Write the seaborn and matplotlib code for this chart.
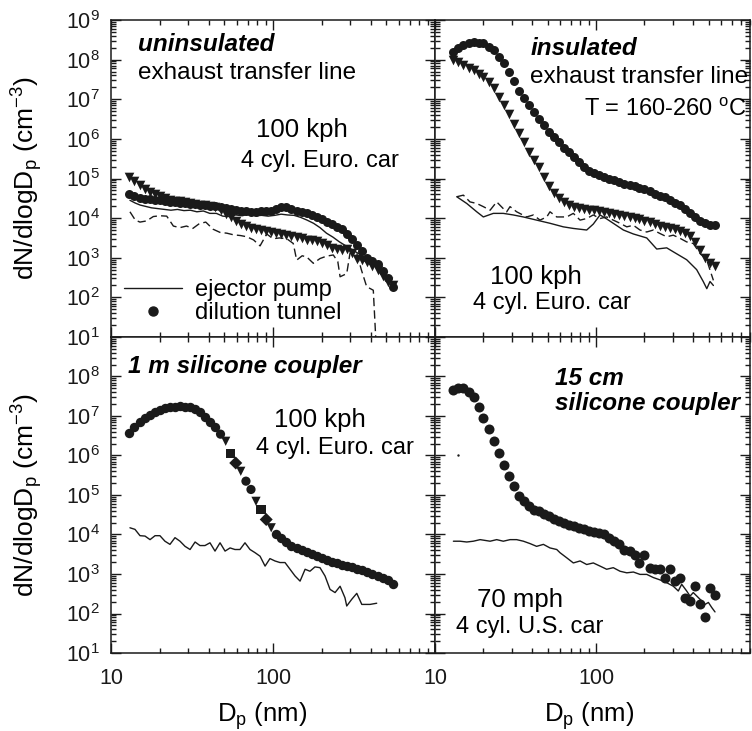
import numpy as np
import pandas as pd
import matplotlib
matplotlib.use('Agg')
import matplotlib.pyplot as plt
import seaborn as sns
from matplotlib.lines import Line2D
from matplotlib.ticker import LogLocator, NullFormatter

# all values are log10 (diameter in nm, dN/dlogDp in cm^-3)
grid_lx = [1.114, 1.145, 1.176, 1.208, 1.239, 1.270, 1.301, 1.333, 1.364, 1.395,
           1.426, 1.458, 1.489, 1.520, 1.551, 1.583, 1.614, 1.645, 1.676, 1.708,
           1.739, 1.770, 1.801, 1.833, 1.864, 1.895, 1.926, 1.958, 1.989, 2.020,
           2.051, 2.083, 2.114, 2.145, 2.176, 2.208, 2.239, 2.270, 2.301, 2.333,
           2.364, 2.395, 2.426, 2.458, 2.489, 2.520, 2.551, 2.583, 2.614, 2.645,
           2.676, 2.708, 2.739]

# top left: uninsulated transfer line
tl_circ_ly = [4.62, 4.56, 4.50, 4.49, 4.48, 4.47, 4.45, 4.43, 4.41, 4.40,
              4.39, 4.37, 4.36, 4.35, 4.33, 4.33, 4.31, 4.30, 4.29, 4.26,
              4.23, 4.20, 4.19, 4.18, 4.16, 4.16, 4.17, 4.18, 4.19, 4.24,
              4.27, 4.29, 4.23, 4.18, 4.15, 4.12, 4.07, 4.02, 3.97, 3.90,
              3.84, 3.78, 3.72, 3.60, 3.47, 3.32, 3.16, 3.00, 2.93, 2.84,
              2.66, 2.48, 2.25]
tl_tri_ly = [5.04, 4.93, 4.83, 4.74, 4.66, 4.60, 4.55, 4.50, 4.46, 4.44,
             4.42, 4.40, 4.38, 4.36, 4.34, 4.33, 4.31, 4.28, 4.20, 4.10,
             4.02, 3.92, 3.85, 3.80, 3.76, 3.73, 3.71, 3.68, 3.65, 3.63,
             3.60, 3.57, 3.55, 3.52, 3.49, 3.46, 3.44, 3.42, 3.38, 3.32,
             3.25, 3.22, 3.20, 3.22, 3.12, 2.98, 2.95, 2.90, 2.80, 2.70,
             2.55, 2.40, 2.30]
tl_pump_lx = [1.117, 1.150, 1.180, 1.210, 1.250, 1.290, 1.330, 1.370, 1.410, 1.450,
              1.490, 1.530, 1.570, 1.610, 1.650, 1.690, 1.730, 1.770, 1.810, 1.850,
              1.890, 1.930, 1.970, 2.010, 2.050, 2.090, 2.130, 2.170, 2.210, 2.250,
              2.290, 2.330, 2.370, 2.410, 2.450, 2.490, 2.530, 2.570, 2.610, 2.650,
              2.690, 2.730]
tl_pump_ly = [4.45, 4.38, 4.33, 4.30, 4.26, 4.24, 4.22, 4.20, 4.22, 4.19,
              4.20, 4.16, 4.18, 4.12, 4.12, 4.05, 4.04, 4.08, 4.06, 4.10,
              4.06, 4.07, 4.05, 4.07, 4.10, 4.08, 4.07, 4.02, 3.95, 3.87,
              3.76, 3.62, 3.52, 3.40, 3.30, 3.20, 3.10, 2.98, 2.85, 2.70,
              2.50, 2.30]
tl_dash_lx = [1.117, 1.150, 1.179, 1.220, 1.261, 1.302, 1.344, 1.385, 1.425, 1.466,
              1.505, 1.545, 1.585, 1.630, 1.673, 1.715, 1.755, 1.800, 1.838, 1.880,
              1.920, 1.961, 2.000, 2.040, 2.085, 2.125, 2.146, 2.180, 2.208, 2.249,
              2.290, 2.330, 2.372, 2.400, 2.414, 2.455, 2.475, 2.517, 2.545, 2.578,
              2.619, 2.640]
tl_dash_ly = [4.16, 3.95, 3.90, 3.93, 4.04, 4.06, 4.05, 3.80, 3.76, 3.80,
              3.74, 3.86, 3.90, 3.72, 3.64, 3.62, 3.58, 3.56, 3.53, 3.45,
              3.30, 3.60, 3.48, 3.50, 3.48, 3.36, 2.94, 3.05, 3.02, 2.86,
              2.98, 3.04, 3.07, 2.90, 2.52, 2.60, 3.11, 3.11, 2.70, 2.27,
              2.18, 0.50]

# top right: insulated transfer line
tr_circ_ly = [8.20, 8.29, 8.37, 8.41, 8.45, 8.43, 8.41, 8.33, 8.24, 8.07,
              7.91, 7.69, 7.47, 7.21, 7.02, 6.85, 6.68, 6.51, 6.34, 6.17,
              6.04, 5.91, 5.78, 5.66, 5.54, 5.41, 5.29, 5.20, 5.13, 5.10,
              5.05, 5.00, 4.95, 4.91, 4.87, 4.83, 4.80, 4.77, 4.73, 4.68,
              4.62, 4.57, 4.53, 4.45, 4.39, 4.32, 4.22, 4.12, 4.03, 3.93,
              3.87, 3.83, 3.82]
tr_tri_ly = [7.99, 7.93, 7.86, 7.80, 7.74, 7.65, 7.57, 7.43, 7.28, 7.06,
             6.85, 6.62, 6.37, 6.15, 5.92, 5.68, 5.46, 5.30, 5.04, 4.81,
             4.63, 4.50, 4.40, 4.32, 4.28, 4.25, 4.23, 4.21, 4.20, 4.18,
             4.15, 4.12, 4.10, 4.08, 4.06, 4.04, 4.00, 3.97, 3.93, 3.90,
             3.85, 3.81, 3.77, 3.74, 3.72, 3.68, 3.63, 3.55, 3.40, 3.20,
             3.00, 2.88, 2.78]
tr_pump_lx = [1.135, 1.197, 1.259, 1.300, 1.362, 1.424, 1.486, 1.548, 1.631, 1.714,
              1.797, 1.859, 1.942, 1.983, 2.025, 2.066, 2.107, 2.170, 2.232, 2.315,
              2.377, 2.439, 2.480, 2.563, 2.625, 2.666, 2.688, 2.708, 2.729]
tr_pump_ly = [4.54, 4.37, 4.16, 4.03, 4.12, 4.12, 4.08, 4.03, 3.95, 3.87,
              3.78, 3.74, 3.70, 3.85, 4.08, 3.98, 3.87, 3.70, 3.60, 3.50,
              3.22, 3.25, 3.15, 2.95, 2.70, 2.40, 2.22, 2.40, 2.30]
tr_dash_lx = [1.135, 1.176, 1.217, 1.259, 1.300, 1.342, 1.383, 1.424, 1.445, 1.466,
              1.507, 1.569, 1.611, 1.652, 1.694, 1.714, 1.756, 1.818, 1.859, 1.901,
              1.942, 1.983, 2.025, 2.066, 2.107, 2.149, 2.191, 2.232, 2.273, 2.315,
              2.356, 2.398, 2.439, 2.480, 2.522, 2.563, 2.604, 2.646, 2.688, 2.708,
              2.729]
tr_dash_ly = [4.54, 4.58, 4.41, 4.37, 4.29, 4.20, 4.41, 4.24, 4.16, 4.29,
              4.16, 4.03, 4.08, 3.95, 4.03, 4.16, 4.03, 4.03, 4.12, 3.95,
              3.99, 4.08, 3.99, 4.03, 3.95, 3.87, 3.78, 3.82, 3.70, 3.65,
              3.70, 3.61, 3.53, 3.57, 3.49, 3.40, 3.36, 3.11, 2.94, 2.69,
              2.43]

# bottom left: 1 m silicone coupler
bl_circ_lx = grid_lx[:18] + grid_lx[29:]
bl_circ_ly = [6.58, 6.72, 6.84, 6.95, 7.03, 7.11, 7.16, 7.20, 7.23, 7.24,
              7.25, 7.24, 7.22, 7.17, 7.10, 6.98, 6.85, 6.72,
              4.02, 3.90, 3.80, 3.72, 3.65, 3.60, 3.55, 3.50, 3.45, 3.40,
              3.36, 3.31, 3.28, 3.24, 3.20, 3.17, 3.13, 3.09, 3.05, 3.01,
              2.96, 2.90, 2.84, 2.75]
bl_steep_lx = [1.676, 1.708, 1.739, 1.770, 1.801, 1.833, 1.864, 1.895, 1.926, 1.958, 1.989]
bl_steep_ly = [6.54, 6.36, 6.06, 5.81, 5.60, 5.35, 5.14, 4.84, 4.63, 4.38, 4.17]
bl_steep_run = ['o', 'v', 's', 'D', 'v', 'o', 'o', 'v', 's', 'D', 'v']
bl_pump_lx = [1.117, 1.148, 1.179, 1.210, 1.241, 1.272, 1.302, 1.333, 1.364, 1.395,
              1.426, 1.457, 1.488, 1.519, 1.549, 1.580, 1.611, 1.642, 1.673, 1.704,
              1.735, 1.765, 1.796, 1.827, 1.858, 1.889, 1.920, 1.951, 1.981, 2.012,
              2.043, 2.074, 2.105, 2.136, 2.167, 2.198, 2.228, 2.259, 2.290, 2.321,
              2.352, 2.383, 2.414, 2.444, 2.455, 2.486, 2.517, 2.548, 2.599, 2.640]
bl_pump_ly = [4.17, 4.13, 3.97, 3.96, 3.87, 3.97, 3.97, 3.83, 3.75, 3.92,
              3.83, 3.70, 3.62, 3.81, 3.72, 3.72, 3.79, 3.58, 3.79, 3.58,
              3.66, 3.62, 3.62, 3.79, 3.62, 3.54, 3.45, 3.20, 3.39, 3.33,
              3.29, 3.29, 3.12, 2.95, 2.82, 3.12, 3.07, 3.18, 3.16, 2.95,
              2.61, 2.53, 2.69, 2.40, 2.19, 2.36, 2.51, 2.23, 2.23, 2.26]

# bottom right: 15 cm silicone coupler
br_circ_ly = [7.66, 7.70, 7.70, 7.62, 7.49, 7.24, 6.95, 6.68, 6.36, 6.06,
              5.77, 5.49, 5.24, 4.98, 4.84, 4.72, 4.63, 4.59, 4.53, 4.46,
              4.40, 4.34, 4.29, 4.25, 4.21, 4.17, 4.13, 4.08, 4.06, 4.04,
              4.00, 3.92, 3.83, 3.75, 3.62, 3.58, 3.49, 3.28, 3.49, 3.16,
              3.12, 3.12, 2.91, 3.13, 2.82, 2.91, 2.40, 2.32, 2.69, 2.23,
              1.90, 2.65, 2.48]
br_speck = (1.145, 6.02)
br_pump_lx = [1.114, 1.155, 1.197, 1.238, 1.280, 1.342, 1.383, 1.424, 1.466, 1.507,
              1.549, 1.590, 1.631, 1.673, 1.714, 1.756, 1.776, 1.818, 1.859, 1.901,
              1.942, 1.983, 2.025, 2.066, 2.107, 2.149, 2.191, 2.232, 2.273, 2.315,
              2.356, 2.398, 2.439, 2.480, 2.511, 2.532, 2.563, 2.584, 2.604, 2.646,
              2.677, 2.698, 2.719, 2.739]
br_pump_ly = [3.83, 3.83, 3.81, 3.83, 3.87, 3.83, 3.87, 3.83, 3.87, 3.87,
              3.83, 3.77, 3.70, 3.75, 3.66, 3.62, 3.54, 3.41, 3.28, 3.33,
              3.24, 3.28, 3.20, 3.12, 3.16, 3.07, 3.03, 3.05, 2.99, 2.99,
              2.91, 2.85, 2.78, 2.69, 2.57, 2.74, 2.57, 2.44, 2.53, 2.36,
              2.23, 2.28, 2.15, 2.04]

y_exps = [1, 2, 3, 4, 5, 6, 7, 8, 9]


def p10(v):
    return 10 ** np.asarray(v, dtype=float)


sns.set_theme(style='ticks')
plt.rcParams['font.family'] = ['Liberation Sans', 'DejaVu Sans']
plt.rcParams['mathtext.fontset'] = 'custom'
plt.rcParams['mathtext.rm'] = 'Liberation Sans'
plt.rcParams['mathtext.it'] = 'Liberation Sans:italic'
plt.rcParams['mathtext.bf'] = 'Liberation Sans:bold'
for key in ('text.color', 'axes.labelcolor', 'xtick.color', 'ytick.color', 'axes.edgecolor'):
    plt.rcParams[key] = 'black'

fig = plt.figure(figsize=(7.52, 7.31), dpi=100)
ax_tl = fig.add_axes([0.1476, 0.5390, 0.4309, 0.4336])
ax_tr = fig.add_axes([0.5785, 0.5390, 0.4189, 0.4336])
ax_bl = fig.add_axes([0.1476, 0.1067, 0.4309, 0.4323])
ax_br = fig.add_axes([0.5785, 0.1067, 0.4189, 0.4323])

LW = 1.0
MS = 42


def pump(ax, lx, ly):
    sns.lineplot(x=p10(lx), y=p10(ly), ax=ax, color='k', linewidth=LW,
                 estimator=None, sort=False, legend=False)


def tunnel_dash(ax, lx, ly):
    sns.lineplot(x=p10(lx), y=p10(ly), ax=ax, color='k', linewidth=LW,
                 linestyle=(0, (6, 3)), estimator=None, sort=False, legend=False)


def dots(ax, lx, ly, marker='o', s=MS):
    sns.scatterplot(x=p10(lx), y=p10(ly), ax=ax, color='k', marker=marker,
                    s=s, linewidth=0, legend=False)


# top left
pump(ax_tl, tl_pump_lx, tl_pump_ly)
tunnel_dash(ax_tl, tl_dash_lx, tl_dash_ly)
dots(ax_tl, grid_lx, tl_tri_ly, marker='v', s=48)
dots(ax_tl, grid_lx, tl_circ_ly)

# top right
pump(ax_tr, tr_pump_lx, tr_pump_ly)
tunnel_dash(ax_tr, tr_dash_lx, tr_dash_ly)
dots(ax_tr, grid_lx, tr_tri_ly, marker='v', s=48)
dots(ax_tr, grid_lx, tr_circ_ly)

# bottom left
pump(ax_bl, bl_pump_lx, bl_pump_ly)
dots(ax_bl, bl_circ_lx, bl_circ_ly, s=46)
steep = pd.DataFrame({'x': p10(bl_steep_lx), 'y': p10(bl_steep_ly), 'run': bl_steep_run})
sns.scatterplot(data=steep, x='x', y='y', style='run', ax=ax_bl, color='k',
                markers={'o': 'o', 'v': 'v', 's': 's', 'D': 'D'}, s=44,
                linewidth=0, legend=False)

# bottom right
pump(ax_br, br_pump_lx, br_pump_ly)
dots(ax_br, grid_lx, br_circ_ly, s=52)
dots(ax_br, [br_speck[0]], [br_speck[1]], s=3)

TICK_FS = 15.5
for ax in (ax_tl, ax_tr, ax_bl, ax_br):
    ax.set_xscale('log')
    ax.set_yscale('log')
    ax.set_ylim(10, 1e9)
    ax.yaxis.set_minor_locator(LogLocator(base=10, subs=np.arange(2, 10), numticks=30))
    ax.yaxis.set_minor_formatter(NullFormatter())
    ax.xaxis.set_minor_locator(LogLocator(base=10, subs=np.arange(2, 10), numticks=30))
    ax.xaxis.set_minor_formatter(NullFormatter())
    ax.tick_params(which='both', direction='in', top=True, right=True,
                   width=1, color='k', labelsize=TICK_FS, labelcolor='k')
    ax.tick_params(which='major', length=7)
    ax.tick_params(which='minor', length=3.5)
    ax.tick_params(axis='x', pad=11)
    ax.tick_params(axis='y', pad=8)
    for sp in ax.spines.values():
        sp.set_linewidth(1.1)
        sp.set_color('k')
    ax.set_xlabel('')
    ax.set_ylabel('')

ax_tl.set_xlim(10, 1000)
ax_bl.set_xlim(10, 1000)
ax_tr.set_xlim(10, 905)
ax_br.set_xlim(10, 905)

ax_tl.set_xticks([10, 100, 1000], ['', '', ''])
ax_tr.set_xticks([10, 100], ['', ''])
ax_bl.set_xticks([10, 100, 1000], ['10', '100', ''])
ax_br.set_xticks([10, 100], ['10', '100'])

ylabels_top = ['$10^{%d}$' % e for e in y_exps]
ylabels_bot = ['$10^{%d}$' % e for e in y_exps[:-1]] + ['']
ax_tl.set_yticks(p10(y_exps), ylabels_top)
ax_bl.set_yticks(p10(y_exps), ylabels_bot)
ax_tr.set_yticks(p10(y_exps), [''] * 9)
ax_br.set_yticks(p10(y_exps), [''] * 9)

ylab = 'dN/dlogD$_\\mathrm{p}$ (cm$^{-3}$)'
for ax in (ax_tl, ax_bl):
    ax.set_ylabel(ylab, fontsize=19)
    ax.yaxis.set_label_coords(-0.205, 0.5)
for ax, xc in ((ax_bl, 0.466), (ax_br, 0.489)):
    ax.set_xlabel('D$_\\mathrm{p}$ (nm)', fontsize=18.5)
    ax.xaxis.set_label_coords(xc, -0.15)

BI = dict(fontweight='bold', fontstyle='italic', fontsize=17.5)
kw = dict(va='center')
F_SPEED = 18.5
F_CAR = 17
F_LINE = 17.5

ax_tl.text(0.083, 0.924, 'uninsulated', transform=ax_tl.transAxes, **BI, **kw)
ax_tl.text(0.083, 0.833, 'exhaust transfer line', transform=ax_tl.transAxes, fontsize=F_LINE, **kw)
ax_tl.text(0.590, 0.653, '100 kph', transform=ax_tl.transAxes, ha='center', fontsize=F_SPEED, **kw)
ax_tl.text(0.645, 0.555, '4 cyl. Euro. car', transform=ax_tl.transAxes, ha='center', fontsize=F_CAR, **kw)

ax_tr.text(0.302, 0.909, 'insulated', transform=ax_tr.transAxes, **BI, **kw)
ax_tr.text(0.302, 0.820, 'exhaust transfer line', transform=ax_tr.transAxes, fontsize=F_LINE, **kw)
ax_tr.text(0.990, 0.716, 'T = 160-260 $^{\\mathrm{o}}$C', transform=ax_tr.transAxes, ha='right', fontsize=17, **kw)
ax_tr.text(0.321, 0.189, '100 kph', transform=ax_tr.transAxes, ha='center', fontsize=F_SPEED, **kw)
ax_tr.text(0.371, 0.107, '4 cyl. Euro. car', transform=ax_tr.transAxes, ha='center', fontsize=F_CAR, **kw)

ax_bl.text(0.052, 0.908, '1 m silicone coupler', transform=ax_bl.transAxes, **BI, **kw)
ax_bl.text(0.645, 0.737, '100 kph', transform=ax_bl.transAxes, ha='center', fontsize=F_SPEED, **kw)
ax_bl.text(0.691, 0.649, '4 cyl. Euro. car', transform=ax_bl.transAxes, ha='center', fontsize=F_CAR, **kw)

ax_br.text(0.381, 0.870, '15 cm', transform=ax_br.transAxes, **BI, **kw)
ax_br.text(0.381, 0.791, 'silicone coupler', transform=ax_br.transAxes, **BI, **kw)
ax_br.text(0.270, 0.168, '70 mph', transform=ax_br.transAxes, ha='center', fontsize=F_SPEED, **kw)
ax_br.text(0.302, 0.082, '4 cyl. U.S. car', transform=ax_br.transAxes, ha='center', fontsize=F_CAR, **kw)

handles = [Line2D([], [], color='k', linewidth=LW),
           Line2D([], [], color='k', marker='o', linestyle='', markersize=6.5)]
ax_tl.legend(handles, ['ejector pump', 'dilution tunnel'], loc='lower left',
             bbox_to_anchor=(0.04, 0.04), frameon=False, fontsize=17,
             handlelength=2.45, handletextpad=0.55, labelspacing=0.05,
             borderpad=0, borderaxespad=0)

fig.savefig('out.png', dpi=100)
